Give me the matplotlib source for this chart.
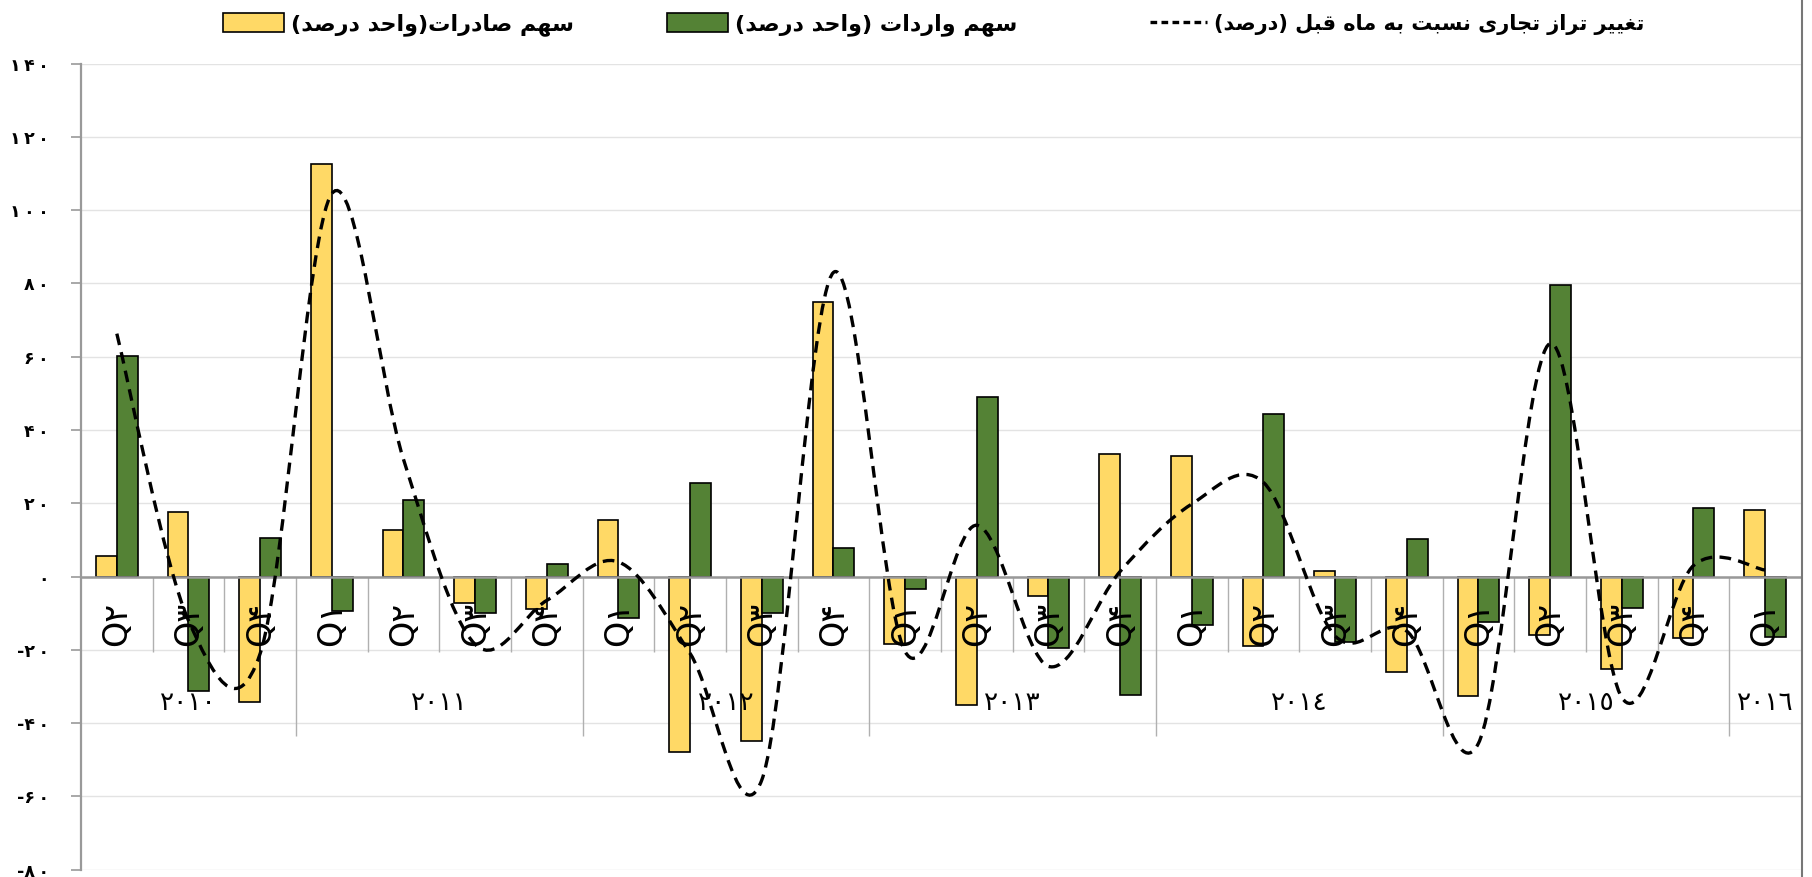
import matplotlib
matplotlib.use("Agg")
import matplotlib.pyplot as plt
from matplotlib.path import Path
from matplotlib.patches import PathPatch, Patch
from matplotlib.lines import Line2D
import numpy as np

plt.rcParams["font.family"] = ["DejaVu Sans"]

# ---- data ------------------------------------------------------------------

years = ["٢٠١٠", "٢٠١١", "٢٠١٢", "٢٠١٣", "٢٠١٤", "٢٠١٥", "٢٠١٦"]
quarters_per_year = [3, 4, 4, 4, 4, 4, 1]
quarter_labels = ["Q۲", "Q۳", "Q۴",
                  "Q۱", "Q۲", "Q۳", "Q۴",
                  "Q۱", "Q۲", "Q۳", "Q۴",
                  "Q۱", "Q۲", "Q۳", "Q۴",
                  "Q۱", "Q۲", "Q۳", "Q۴",
                  "Q۱", "Q۲", "Q۳", "Q۴",
                  "Q۱"]

exports = [5.6, 17.6, -34.2, 112.7, 12.8, -7.3, -8.8, 15.5, -48.0, -45.0,
           75.0, -18.3, -35.1, -5.3, 33.5, 33.0, -19.0, 1.5, -26.1, -32.5,
           -16.0, -25.1, -16.8, 18.3]
imports = [60.3, -31.3, 10.5, -9.3, 20.9, -9.9, 3.5, -11.4, 25.5, -9.9,
           7.9, -3.5, 48.9, -19.6, -32.4, -13.3, 44.5, -17.8, 10.3, -12.5,
           79.5, -8.5, 18.6, -16.4]
balance = [66.3, -12.0, -21.0, 104.5, 32.0, -18.5, -6.5, 4.0, -21.0, -55.5,
           83.0, -20.5, 14.0, -24.5, 1.4, 19.8, 25.7, -16.2, -14.9, -45.5,
           63.6, -33.0, 3.0, 1.8]

yticks = [-80, -60, -40, -20, 0, 20, 40, 60, 80, 100, 120, 140]

label_exports = "سهم صادرات(واحد درصد)"
label_imports = "سهم واردات (واحد درصد)"
label_balance = "تغییر تراز تجاری نسبت به ماه قبل (درصد)"

YELLOW = "#FFD966"
GREEN = "#548235"

# ---- minimal persian shaping (matplotlib has no RTL / joining support) -----

FORMS = {  # isolated, final, initial, medial
    "ا": ("\uFE8D", "\uFE8E", None, None),
    "ب": ("\uFE8F", "\uFE90", "\uFE91", "\uFE92"),
    "ت": ("\uFE95", "\uFE96", "\uFE97", "\uFE98"),
    "ج": ("\uFE9D", "\uFE9E", "\uFE9F", "\uFEA0"),
    "ح": ("\uFEA1", "\uFEA2", "\uFEA3", "\uFEA4"),
    "د": ("\uFEA9", "\uFEAA", None, None),
    "ر": ("\uFEAD", "\uFEAE", None, None),
    "ز": ("\uFEAF", "\uFEB0", None, None),
    "س": ("\uFEB1", "\uFEB2", "\uFEB3", "\uFEB4"),
    "ص": ("\uFEB9", "\uFEBA", "\uFEBB", "\uFEBC"),
    "غ": ("\uFECD", "\uFECE", "\uFECF", "\uFED0"),
    "ق": ("\uFED5", "\uFED6", "\uFED7", "\uFED8"),
    "ل": ("\uFEDD", "\uFEDE", "\uFEDF", "\uFEE0"),
    "م": ("\uFEE1", "\uFEE2", "\uFEE3", "\uFEE4"),
    "ن": ("\uFEE5", "\uFEE6", "\uFEE7", "\uFEE8"),
    "ه": ("\uFEE9", "\uFEEA", "\uFEEB", "\uFEEC"),
    "و": ("\uFEED", "\uFEEE", None, None),
    "ی": ("\uFBFC", "\uFBFD", "\uFBFE", "\uFBFF"),
}


def rtl(text):
    out = []
    for i, ch in enumerate(text):
        if ch not in FORMS:
            out.append(ch)
            continue
        prev = text[i - 1] if i > 0 else ""
        nxt = text[i + 1] if i + 1 < len(text) else ""
        join_prev = prev in FORMS and FORMS[prev][2] is not None
        join_next = nxt in FORMS and FORMS[ch][2] is not None
        iso, fin, ini, med = FORMS[ch]
        if join_prev and join_next:
            out.append(med)
        elif join_prev:
            out.append(fin)
        elif join_next:
            out.append(ini)
        else:
            out.append(iso)
    swap = {"(": ")", ")": "("}
    return "".join(swap.get(c, c) for c in reversed(out))


def fa_num(v):
    digits = "۰۱۲۳۴۵۶۷۸۹"
    s = "\u2009".join(digits[int(c)] for c in str(abs(v)))
    return ("-" if v < 0 else "") + s


# ---- figure ----------------------------------------------------------------

fig = plt.figure(figsize=(18.12, 8.77), dpi=100)
ax = fig.add_axes([0.0447, 0.00832, 0.9492, 0.91915])

n = len(exports)
x = np.arange(n)
w = 0.29
ax.bar(x - w / 2, exports, w, color=YELLOW, edgecolor="black", linewidth=1.2, zorder=2)
ax.bar(x + w / 2, imports, w, color=GREEN, edgecolor="black", linewidth=1.2, zorder=2)

ax.set_xlim(-0.5, n - 0.5)
ax.set_ylim(-80, 140)
ax.set_yticks(yticks)
ax.set_yticklabels([fa_num(v) for v in yticks], fontsize=12.5, fontweight="bold")
ax.yaxis.grid(True, color="#e3e3e3", linewidth=1.0, zorder=0)
ax.set_axisbelow(True)
ax.set_xticks([])
ax.tick_params(axis="y", length=7, width=1.2, color="#999999", pad=16)
for side in ("top", "right", "bottom"):
    ax.spines[side].set_visible(False)
ax.spines["left"].set_color("#999999")
ax.spines["left"].set_linewidth(1.6)
ax.axhline(0, color="#999999", linewidth=1.8, zorder=3)

# category separators: short between quarters, long between years
year_ends = np.cumsum(quarters_per_year)
for b in range(1, n):
    long_tick = b in year_ends
    ax.vlines(b - 0.5, -43.6 if long_tick else -20.5, 0,
              color="#b0b0b0", linewidth=1.0, zorder=1)

for i, lab in enumerate(quarter_labels):
    ax.text(i, -13, lab, rotation=90, ha="center", va="center",
            fontsize=24, zorder=4)

start = 0
for yr, cnt in zip(years, quarters_per_year):
    ax.text(start + (cnt - 1) / 2, -34.5, yr, ha="center", va="center",
            fontsize=19, zorder=4)
    start += cnt

# smoothed dashed line (Catmull-Rom style bezier through the points)
pts = np.column_stack([x, balance]).astype(float)
verts = [pts[0]]
codes = [Path.MOVETO]
for i in range(n - 1):
    p_prev = pts[i - 1] if i > 0 else pts[i]
    p_next2 = pts[i + 2] if i + 2 < n else pts[i + 1]
    c1 = pts[i] + (pts[i + 1] - p_prev) / 6
    c2 = pts[i + 1] - (p_next2 - pts[i]) / 6
    verts += [c1, c2, pts[i + 1]]
    codes += [Path.CURVE4] * 3
ax.add_patch(PathPatch(Path(verts, codes), fill=False, edgecolor="black",
                       linewidth=2.4, linestyle=(0, (3.5, 2.2)), zorder=5,
                       capstyle="butt"))

# legend: three separate entries placed as in the original
handles = [
    (Patch(facecolor=YELLOW, edgecolor="black", linewidth=1.2), rtl(label_exports), 223 / 1812, 16),
    (Patch(facecolor=GREEN, edgecolor="black", linewidth=1.2), rtl(label_imports), 667 / 1812, 16),
    (Line2D([], [], color="black", linewidth=2.4, linestyle=(0, (2.0, 1.3))), rtl(label_balance), 1150 / 1812, 15),
]
for h, lab, xpos, fs in handles:
    fig.legend([h], [lab], loc="center left", bbox_to_anchor=(xpos, 0.972),
               frameon=False, handlelength=2.75, handleheight=0.9,
               handletextpad=0.3, borderaxespad=0, borderpad=0,
               prop={"size": fs, "weight": "bold"})

fig.add_artist(Line2D([1801.5 / 1812] * 2, [0, 1], color="#777777", linewidth=1.5))

fig.savefig("out.png", dpi=100)
